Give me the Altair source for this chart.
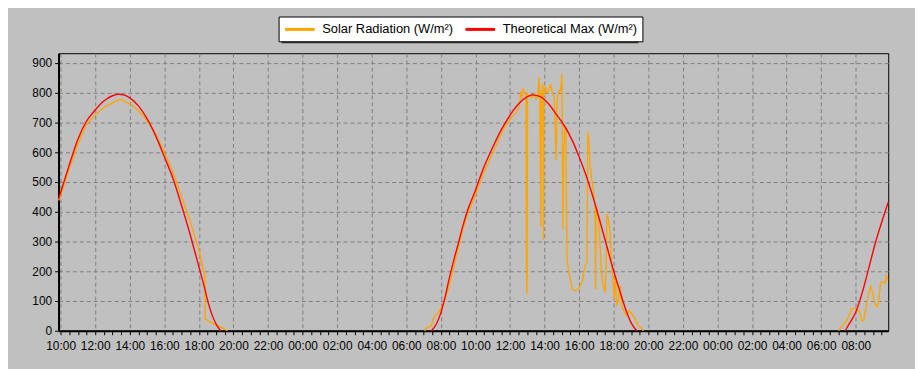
import altair as alt
import pandas as pd

SERIES = ["Solar Radiation (W/m²)", "Theoretical Max (W/m²)"]
COLORS = ["#FFA500", "#FF0000"]

# hours since 00:00 of day 1 (day 2 = +24, day 3 = +48)
max_d1_t = [9.88, 10.0, 10.46, 11.0, 11.5, 12.0, 12.5, 13.0, 13.35, 13.7, 14.0, 14.5, 15.0, 15.5,
            16.0, 16.5, 17.0, 17.5, 18.0, 18.3, 18.55, 18.75, 18.93, 19.1, 19.25]
max_d1_v = [443, 465, 550, 644, 705, 742, 772, 790, 795, 792, 783, 756, 713, 655,
            585, 512, 420, 322, 215, 150, 92, 55, 30, 12, 0]
max_d2_t = [7.45, 7.73, 8.0, 8.21, 8.5, 8.78, 9.0, 9.26, 9.55, 10.0, 10.41, 11.0, 11.46, 12.0, 12.5, 13.0,
            13.3, 13.75, 14.24, 14.73, 15.02, 15.6, 16.0, 16.5, 17.0, 17.5, 18.0, 18.37, 18.75,
            19.04, 19.33]
max_d2_v = [0, 22, 61, 106, 180, 245, 292, 350, 406, 472, 539, 617, 672, 725, 763, 787,
            793, 787, 762, 723, 700, 640, 584, 505, 410, 305, 200, 130, 62,
            23, 0]
max_d3_t = [7.39, 7.62, 8.0, 8.38, 8.76, 9.14, 9.52, 9.85, 9.88]
max_d3_v = [0, 23, 62, 129, 212, 296, 368, 427, 432]

sol_d1_t = [9.88, 9.94, 10.46, 11.0, 11.5, 12.0, 12.55, 13.03, 13.3, 13.55, 13.7, 14.08, 14.46, 14.84,
            15.4, 16.0, 16.46, 16.93, 17.47, 18.0, 18.27, 18.34, 18.36, 18.64, 19.02, 19.31, 19.6, 19.65]
sol_d1_v = [438, 444, 539, 628, 694, 726, 752, 767, 774, 778, 770, 761, 741, 719,
            672, 600, 539, 461, 372, 272, 200, 197, 39, 30, 17, 11, 2, 0]
sol_d2_t = [7.06, 7.15, 7.44, 7.6, 7.73, 7.85, 8.0, 8.21, 8.5, 8.78, 9.0, 9.26, 9.55, 10.0, 10.41, 10.89,
            11.27, 11.66, 12.0, 12.27, 12.42, 12.55, 12.62, 12.67, 12.75, 12.86, 12.93, 12.95, 12.97, 12.99,
            13.01, 13.1, 13.25, 13.4, 13.5, 13.62, 13.67, 13.72, 13.78, 13.82, 13.9, 13.93, 13.96, 14.04,
            14.15, 14.24, 14.35, 14.45, 14.55, 14.67, 14.72, 14.82, 14.92, 15.0, 15.06, 15.1, 15.18, 15.22,
            15.3, 15.4, 15.5, 15.6, 15.8, 16.0, 16.2, 16.33, 16.45, 16.5, 16.56, 16.63, 16.73, 16.8, 16.85,
            16.92, 16.95, 16.98, 17.02, 17.12, 17.21, 17.31, 17.4, 17.5, 17.56, 17.6, 17.7, 17.79, 17.88,
            17.98, 18.04, 18.1, 18.17, 18.27, 18.37, 18.46, 18.62, 18.75, 18.88, 19.04, 19.23, 19.42, 19.62,
            19.71]
sol_d2_v = [0, 8, 17, 45, 52, 60, 74, 100, 156, 222, 278, 339, 394, 456, 522, 583,
            633, 683, 711, 729, 740, 760, 806, 784, 812, 801, 790, 229, 123, 180,
            796, 790, 784, 796, 780, 790, 853, 800, 351, 790, 830, 307, 800, 818,
            800, 807, 829, 800, 784, 573, 773, 807, 807, 864, 340, 596, 684, 684,
            240, 196, 170, 140, 134, 145, 168, 218, 229, 668, 640, 557, 507, 484, 451,
            418, 140, 418, 407, 373, 284, 184, 151, 129, 218, 393, 373, 329, 218,
            151, 107, 184, 84, 107, 151, 84, 62, 51, 68, 57, 40, 18, 7,
            0]
sol_d3_t = [7.01, 7.14, 7.33, 7.47, 7.62, 7.75, 7.9, 8.1, 8.23, 8.34, 8.46, 8.57, 8.72, 8.88, 8.99,
            9.1, 9.24, 9.33, 9.43, 9.62, 9.71, 9.77, 9.85]
sol_d3_v = [0, 12, 23, 34, 51, 73, 76, 71, 62, 34, 34, 68, 118, 149, 123,
            90, 81, 96, 162, 164, 160, 184, 173]

X_DOMAIN = [9.88, 57.88]
Y_DOMAIN = [0, 933]
Y_TICKS = [0, 100, 200, 300, 400, 500, 600, 700, 800, 900]
X_TICKS = [10 + 0.5 * i for i in range(96)]


def frame(ts, vs, offset, series, seg):
    return pd.DataFrame({"t": [t + offset for t in ts], "v": vs, "series": series, "seg": seg})


sol = pd.concat([
    frame(sol_d1_t, sol_d1_v, 0, SERIES[0], "s1"),
    frame(sol_d2_t, sol_d2_v, 24, SERIES[0], "s2"),
    frame(sol_d3_t, sol_d3_v, 48, SERIES[0], "s3"),
])
mx = pd.concat([
    frame(max_d1_t, max_d1_v, 0, SERIES[1], "m1"),
    frame(max_d2_t, max_d2_v, 24, SERIES[1], "m2"),
    frame(max_d3_t, max_d3_v, 48, SERIES[1], "m3"),
])

FONT = "Liberation Sans"

x_enc = alt.X("t:Q", scale=alt.Scale(domain=X_DOMAIN, nice=False, zero=False),
              axis=alt.Axis(values=X_TICKS, title=None, labelFlush=False, labelOverlap=False,
                            labelExpr="datum.value % 2 == 0 ? ((datum.value % 24) < 10 ? '0' : '') + (datum.value % 24) + ':00' : ''",
                            gridOpacity={"condition": {"test": "datum.value % 2 == 0", "value": 1}, "value": 0},
                            tickSize=4, labelPadding=6))
y_enc = alt.Y("v:Q", scale=alt.Scale(domain=Y_DOMAIN, nice=False),
              axis=alt.Axis(values=Y_TICKS, title=None, tickSize=4, labelPadding=3))
color_enc = alt.Color("series:N", scale=alt.Scale(domain=SERIES, range=COLORS),
                      legend=alt.Legend(title=None, orient="none", legendX=222, legendY=-37,
                                        direction="horizontal", fillColor="white", strokeColor="black",
                                        padding=5, symbolType="M-1,0H3.6", symbolSize=169,
                                        symbolStrokeWidth=3, labelFontSize=13, labelFont=FONT,
                                        labelColor="black", columnPadding=5, labelOffset=23,
                                        labelLimit=300))

shadow = alt.Chart(pd.DataFrame({"a": [0]})).mark_rect(color="#333333").encode(
    x=alt.value(225), x2=alt.value(585), y=alt.value(-33), y2=alt.value(-10))

sol_line = alt.Chart(sol).mark_line(strokeWidth=1.4, interpolate="linear").encode(
    x=x_enc, y=y_enc, color=color_enc, detail="seg:N")
max_line = alt.Chart(mx).mark_line(strokeWidth=1.4, interpolate="monotone").encode(
    x=x_enc, y=y_enc, color=color_enc, detail="seg:N")

chart = alt.layer(shadow, sol_line, max_line).properties(
    width=837, height=280,
    autosize="none",
    padding={"left": 51, "top": 44, "right": 27, "bottom": 37},
    background="#C0C0C0",
).configure_view(
    fill="#C0C0C0", stroke="black", strokeWidth=1
).configure_axis(
    domainColor="black", domainWidth=2, tickColor="black", labelColor="black",
    labelFont=FONT, labelFontSize=12, gridColor="#808080", gridDash=[4, 3], gridWidth=1,
)

chart.save("out.html", embed_options={"renderer": "svg", "actions": False})
